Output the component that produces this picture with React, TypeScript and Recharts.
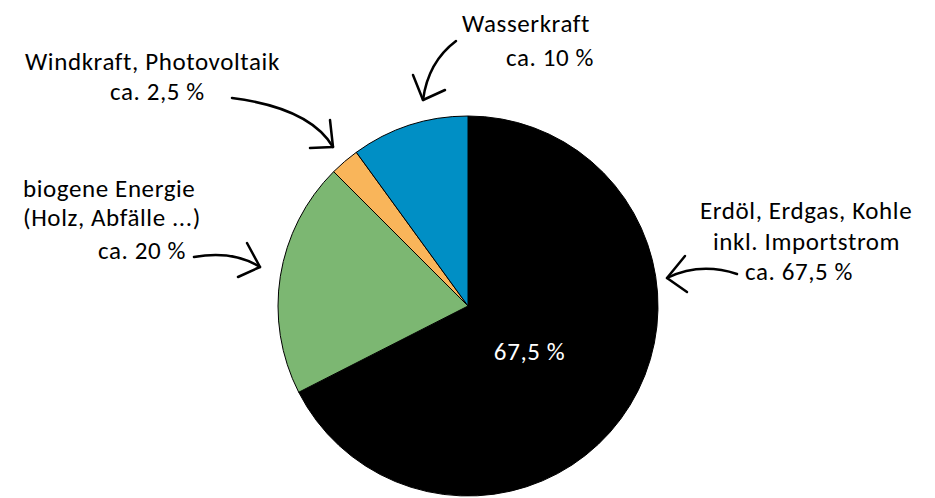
import React from "react";
import { PieChart, Pie, Cell } from "recharts";

const categories = [
  "Erdöl, Erdgas, Kohle inkl. Importstrom",
  "biogene Energie (Holz, Abfälle ...)",
  "Windkraft, Photovoltaik",
  "Wasserkraft",
];
const shares = [67.5, 20, 2.5, 10];
const colors = ["#000000", "#7cb772", "#f9b55a", "#008fc5"];

const data = categories.map((name, i) => ({ name, value: shares[i] }));

const FONT = "Carlito, Calibri, Lato, 'Open Sans', sans-serif";
const TEXT_STYLE = { fontFamily: FONT, fontSize: 25, letterSpacing: 0.6 };

const annotations: { lines: { t: string; x: number; y: number }[] }[] = [
  { lines: [
    { t: "Erdöl, Erdgas, Kohle", x: 700, y: 219 },
    { t: "inkl. Importstrom", x: 713, y: 250 },
    { t: "ca. 67,5 %", x: 745, y: 280 },
  ] },
  { lines: [
    { t: "biogene Energie", x: 23, y: 197 },
    { t: "(Holz, Abfälle ...)", x: 23, y: 226 },
    { t: "ca. 20 %", x: 98, y: 259 },
  ] },
  { lines: [
    { t: "Windkraft, Photovoltaik", x: 25, y: 70 },
    { t: "ca. 2,5 %", x: 110, y: 100 },
  ] },
  { lines: [
    { t: "Wasserkraft", x: 462, y: 32 },
    { t: "ca. 10 %", x: 506, y: 66 },
  ] },
];

const arrows = [
  { d: "M737,274 Q700,262 667,278", head: "M685,256 L667,278 L687,292" },
  { d: "M194,257 Q233,250 260,267", head: "M247,243 L260,267 L238,277" },
  { d: "M232,98 Q310,108 333,147", head: "M330,120 L333,147 L310,148" },
  { d: "M456,41 Q428,62 423,100", head: "M413,75 L423,100 L445,90" },
];

const renderLabel = (props: any) => {
  const { cx, cy, midAngle, outerRadius, index, value } = props;
  if (index !== 0) return null;
  const RAD = Math.PI / 180;
  const r = outerRadius * 0.38;
  const x = cx + r * Math.cos(-midAngle * RAD);
  const y = cy + r * Math.sin(-midAngle * RAD);
  return (
    <text x={x} y={y + 10} fill="#ffffff" textAnchor="middle" dominantBaseline="middle"
      style={TEXT_STYLE}>
      {String(value).replace(".", ",") + " %"}
    </text>
  );
};

export default function App() {
  return (
    <div style={{ position: "absolute", left: 0, top: 0, width: 935, height: 498, background: "#fff" }}>
      <PieChart width={935} height={498} margin={{ top: 0, right: 0, bottom: 0, left: 0 }}>
        <Pie
          data={data}
          dataKey="value"
          nameKey="name"
          cx={468}
          cy={306}
          outerRadius={190}
          startAngle={90}
          endAngle={-270}
          stroke="#000"
          strokeWidth={1}
          isAnimationActive={false}
          label={renderLabel}
          labelLine={false}
        >
          {data.map((d, i) => (
            <Cell key={d.name} fill={colors[i]} />
          ))}
        </Pie>
      </PieChart>
      <svg width={935} height={498} style={{ position: "absolute", left: 0, top: 0, pointerEvents: "none" }}>
        {annotations.map((a, i) => (
          <g key={i}>
            {a.lines.map((l, j) => (
              <text key={j} x={l.x} y={l.y} fill="#000" style={TEXT_STYLE}>
                {l.t}
              </text>
            ))}
          </g>
        ))}
        {arrows.map((a, i) => (
          <g key={i} fill="none" stroke="#000" strokeWidth={2.5} strokeLinecap="round" strokeLinejoin="round">
            <path d={a.d} />
            <path d={a.head} />
          </g>
        ))}
      </svg>
    </div>
  );
}
